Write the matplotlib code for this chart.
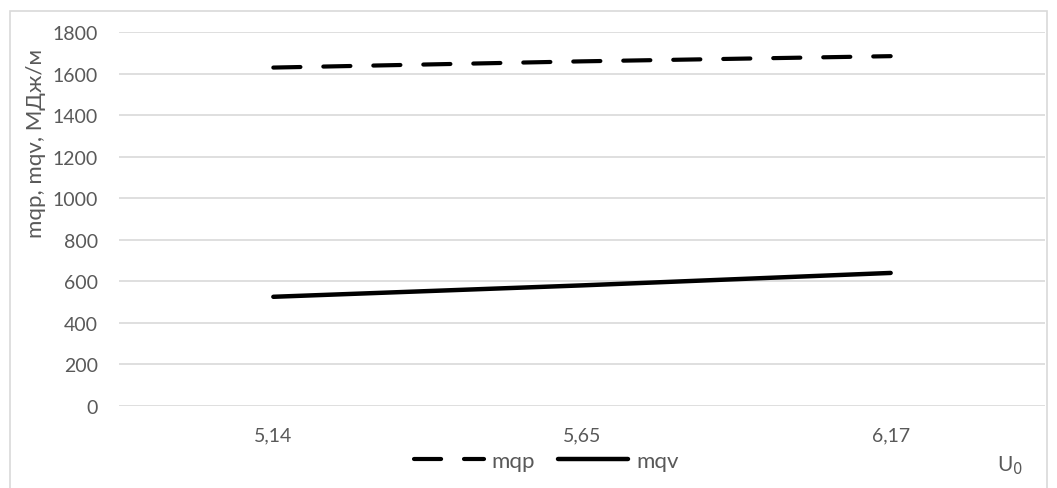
import matplotlib.pyplot as plt
from matplotlib.patches import Rectangle

u0 = ['5,14', '5,65', '6,17']
mqp = [1630, 1660, 1685]
mqv = [525, 580, 640]
yticks = [0, 200, 400, 600, 800, 1000, 1200, 1400, 1600, 1800]

W, H = 1057, 489
grey = '#595959'
plt.rcParams['font.family'] = ['Lato', 'DejaVu Sans']

fig = plt.figure(figsize=(W / 100, H / 100), dpi=100)
# outer chart border
fig.patches.append(Rectangle((10 / W, -0.01), 1037 / W, (H - 12) / H + 0.01,
                             transform=fig.transFigure, fill=False,
                             edgecolor='#d9d9d9', lw=1.2))

ax = fig.add_axes([119 / W, (H - 406.7) / H, 926 / W, 373.4 / H])
x = range(len(u0))
ax.plot(x, mqp, color='black', lw=3, ls=(0, (6.5, 5.5)),
        dash_capstyle='round', solid_capstyle='round', label='mqp')
ax.plot(x, mqv, color='black', lw=3.2, solid_capstyle='round', label='mqv')

ax.set_xlim(-0.5, 2.5)
ax.set_ylim(0, 1800)
ax.set_yticks(yticks)
ax.set_xticks(list(x))
ax.set_xticklabels(u0)
ax.grid(axis='y', color='#d9d9d9', lw=1.2)
ax.set_axisbelow(True)
for s in ax.spines.values():
    s.set_visible(False)
ax.tick_params(length=0, labelsize=14, labelcolor=grey)
ax.tick_params(axis='y', pad=15)
ax.tick_params(axis='x', pad=15)

fig.text(36 / W, 1 - 143 / H, 'mqp, mqv, МДж/м', rotation=90, ha='center',
         va='center', fontsize=16, color=grey)
fig.text(1010 / W, 1 - 466 / H, 'U$_0$', ha='center', va='center',
         fontsize=15, color=grey)

leg = ax.legend(loc='center', bbox_to_anchor=(546 / W, 1 - 462 / H),
                bbox_transform=fig.transFigure, ncol=2, frameon=False,
                handlelength=3.15, handletextpad=0.35, columnspacing=1.05,
                fontsize=16, borderaxespad=0, borderpad=0)
for t in leg.get_texts():
    t.set_color(grey)

fig.savefig('out.png', dpi=100)
